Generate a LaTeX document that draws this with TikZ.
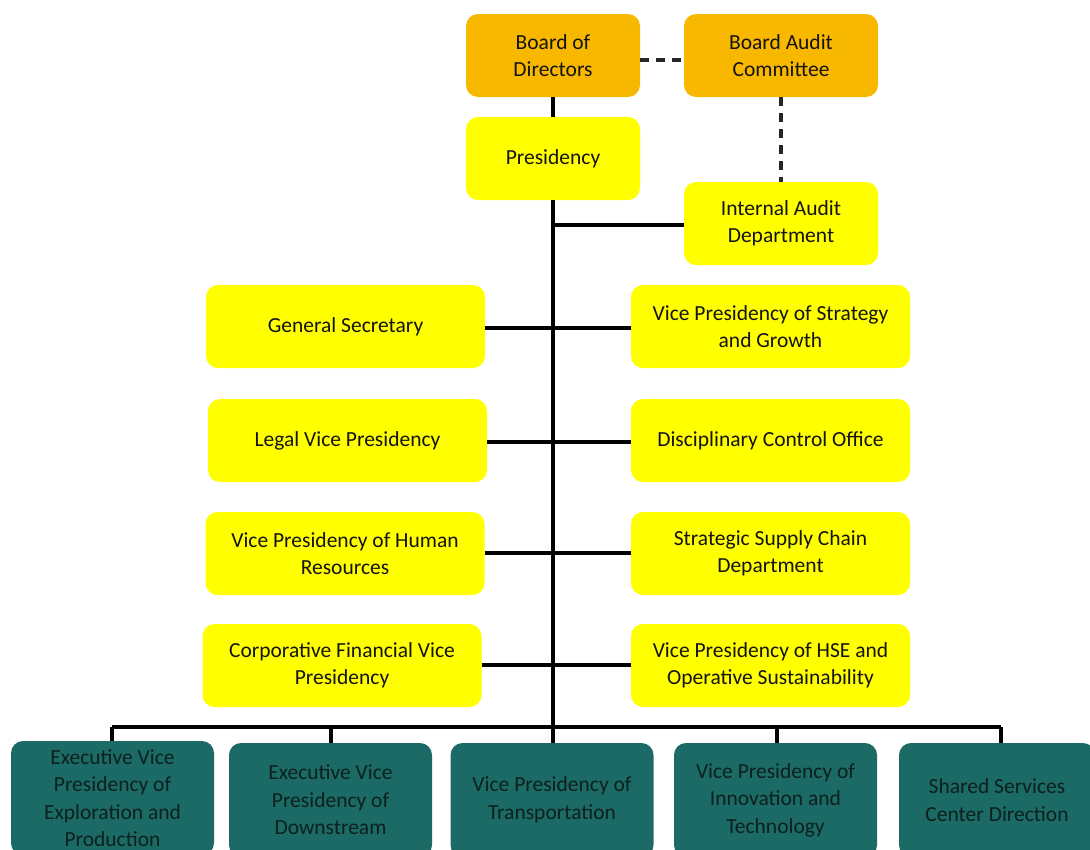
\documentclass[tikz,border=0pt]{standalone}
\usepackage{fontspec}
\setmainfont{Carlito}
\definecolor{boardorange}{HTML}{F9B800}
\definecolor{unityellow}{HTML}{FFFF00}
\definecolor{execteal}{HTML}{1C6A65}
\definecolor{inkdark}{HTML}{141414}
\definecolor{inkteal}{HTML}{0C201E}
\begin{document}
\begin{tikzpicture}[x=1pt,y=-1pt,
  unit/.style={rectangle,rounded corners=12pt,draw=none,align=center,
    inner sep=2pt,text=inkdark,font=\fontsize{21.5}{27.5}\selectfont},
  board/.style={unit,fill=boardorange,minimum width=174pt,minimum height=83pt},
  upper/.style={unit,fill=unityellow,minimum width=174pt,minimum height=83pt},
  side/.style={unit,fill=unityellow,minimum width=279pt,minimum height=83pt},
  exec/.style={unit,fill=execteal,text=inkteal,minimum width=203pt,minimum height=114pt},
  link/.style={draw=black,line width=3.2pt},
  dotlink/.style={draw=black!85,line width=3.2pt,dash pattern=on 9pt off 7pt}]
\useasboundingbox (0,0) rectangle (1090,849);
\fill[white] (0,0) rectangle (1090,849);
\begin{scope}
\clip (0,0) rectangle (1090,849);

% top of the hierarchy
\node[board] (bod) at (553,55.5) {Board of\\Directors};
\node[board,minimum width=194pt] (bac) at (781,55.5) {Board Audit\\Committee};
\node[upper] (pres) at (553,158.5) {Presidency};
\node[upper,minimum width=194pt] (iad) at (781,223.5) {Internal Audit\\Department};

% staff units, left column
\node[side] (gs)  at (345.5,326.5) {General Secretary};
\node[side] (lvp) at (347.5,440.5) {Legal Vice Presidency};
\node[side] (hr)  at (345,553.5) {Vice Presidency of Human\\Resources};
\node[side] (cfv) at (342,665.5) {Corporative Financial Vice\\Presidency};

% staff units, right column
\node[side] (vsg) at (770.5,326.5) {Vice Presidency of Strategy\\and Growth};
\node[side] (dco) at (770.5,440.5) {Disciplinary Control Office};
\node[side] (ssc) at (770.5,553.5) {Strategic Supply Chain\\Department};
\node[side] (hse) at (770.5,665.5) {Vice Presidency of HSE and\\Operative Sustainability};

% executive line
\node[exec] (exp) at (112.5,798) {Executive Vice\\Presidency of\\Exploration and\\Production};
\node[exec] (dwn) at (330.5,800) {Executive Vice\\Presidency of\\Downstream};
\node[exec] (trn) at (552,800) {Vice Presidency of\\Transportation};
\node[exec] (inn) at (775.5,800) {Vice Presidency of\\Innovation and\\Technology};
\node[exec,minimum width=196pt] (ssd) at (997,800) {Shared Services\\Center Direction};
\end{scope}

% junction points on the trunk and the bus
\coordinate (bus) at (553,727);
\coordinate (jiad) at (553,225);
\coordinate (jgs) at (553,328);
\coordinate (jlvp) at (553,442);
\coordinate (jhr) at (553,553);
\coordinate (jcfv) at (553,665);
\coordinate (dexp) at (112,727);
\coordinate (ddwn) at (331,727);
\coordinate (dinn) at (777,727);
\coordinate (dssd) at (1001,727);

% connectors
\draw[link] (bod.south) -- (pres.north);
\draw[link] (pres.south) -- (trn.north -| bus);
\draw[link] (jiad) -- (iad.west |- jiad);
\draw[link] (gs.east |- jgs) -- (vsg.west |- jgs);
\draw[link] (lvp.east |- jlvp) -- (dco.west |- jlvp);
\draw[link] (hr.east |- jhr) -- (ssc.west |- jhr);
\draw[link] (cfv.east |- jcfv) -- (hse.west |- jcfv);
\draw[link] (dexp) -- (dssd);
\draw[link] (dexp) -- (exp.north -| dexp);
\draw[link] (ddwn) -- (dwn.north -| ddwn);
\draw[link] (dinn) -- (inn.north -| dinn);
\draw[link] (dssd) -- (ssd.north -| dssd);
\draw[dotlink] (bod.east |- 0,60) -- (bac.west |- 0,60);
\draw[dotlink] (bac.south) -- (iad.north);
\end{tikzpicture}
\end{document}
